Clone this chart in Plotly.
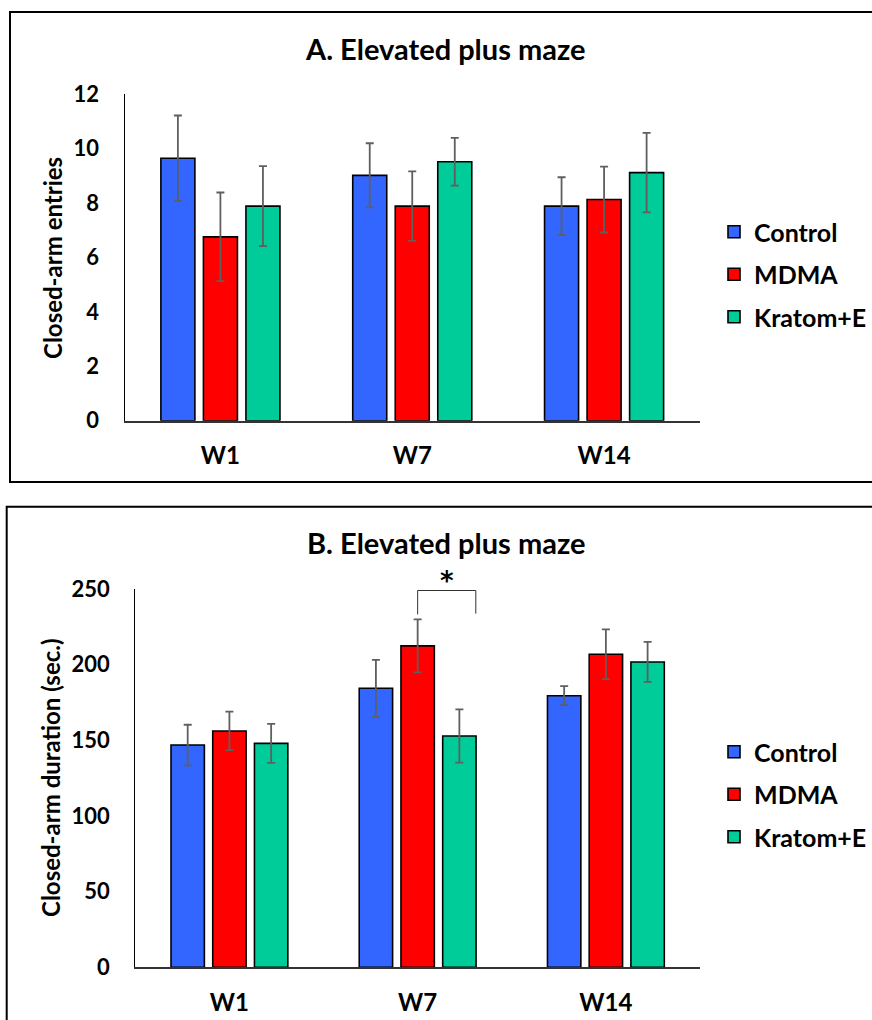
import plotly.graph_objects as go

# ---------------- data ----------------
categories = ["W1", "W7", "W14"]
groups = ["Control", "MDMA", "Kratom+E"]
colors = ["#3366FF", "#FF0000", "#00CC99"]

entries_control = [9.65, 9.02, 7.89]
entries_control_err = [1.57, 1.18, 1.06]
entries_mdma = [6.76, 7.89, 8.13]
entries_mdma_err = [1.63, 1.28, 1.21]
entries_kratom = [7.89, 9.52, 9.12]
entries_kratom_err = [1.47, 0.88, 1.46]

duration_control = [146.9, 184.4, 179.5]
duration_control_err = [13.4, 18.8, 6.3]
duration_mdma = [156.2, 212.4, 206.9]
duration_mdma_err = [12.7, 17.5, 16.4]
duration_kratom = [148.0, 152.9, 201.8]
duration_kratom_err = [12.9, 17.6, 13.2]

y_ticks_a = [0, 2, 4, 6, 8, 10, 12]
y_ticks_b = [0, 50, 100, 150, 200, 250]

W, H = 872, 1020
FONT = "Lato"


def px_x(p):
    return p / W


def px_y(p):
    return 1 - p / H


fig = go.Figure()

series_a = [
    (entries_control, entries_control_err),
    (entries_mdma, entries_mdma_err),
    (entries_kratom, entries_kratom_err),
]
series_b = [
    (duration_control, duration_control_err),
    (duration_mdma, duration_mdma_err),
    (duration_kratom, duration_kratom_err),
]

for i, (vals, errs) in enumerate(series_a):
    fig.add_trace(go.Bar(
        x=categories, y=vals, name=groups[i],
        marker=dict(color=colors[i], line=dict(color="black", width=1.6)),
        error_y=dict(type="data", array=errs, visible=True,
                     color="#5f5f5f", thickness=1.8, width=4),
        xaxis="x", yaxis="y", legend="legend", legendgroup="a" + str(i),
    ))

for i, (vals, errs) in enumerate(series_b):
    fig.add_trace(go.Bar(
        x=categories, y=vals, name=groups[i],
        marker=dict(color=colors[i], line=dict(color="black", width=1.6)),
        error_y=dict(type="data", array=errs, visible=True,
                     color="#5f5f5f", thickness=1.8, width=4),
        xaxis="x2", yaxis="y2", legend="legend2", legendgroup="b" + str(i),
    ))

tickfont_y = dict(family=FONT, size=22, color="black", weight="bold")
tickfont_x = dict(family=FONT, size=24, color="black", weight="bold")

xa_common = dict(
    type="category", range=[-0.5, 2.5], showline=True, linecolor="#333333",
    linewidth=1.6, ticks="", showgrid=False, zeroline=False,
    tickfont=tickfont_x, ticklabelstandoff=13, fixedrange=True,
)
ya_common = dict(
    showline=True, linecolor="black", linewidth=1.3, ticks="",
    showgrid=False, zeroline=False, tickfont=tickfont_y,
    ticklabelstandoff=20, fixedrange=True,
)

legend_common = dict(
    font=dict(family=FONT, size=25, color="black", weight="bold"),
    bgcolor="rgba(0,0,0,0)", traceorder="grouped", tracegroupgap=7,
    xanchor="left", yanchor="top", itemclick=False, itemdoubleclick=False,
)

fig.update_layout(
    width=W, height=H,
    margin=dict(l=0, r=0, t=0, b=0, autoexpand=False),
    paper_bgcolor="white", plot_bgcolor="white",
    barmode="group", bargap=0.335, bargroupgap=0.2,
    showlegend=True,
    xaxis=dict(domain=[px_x(124.5), px_x(700)], anchor="y", **xa_common),
    yaxis=dict(domain=[px_y(420.7), px_y(94.3)], anchor="x", range=[0, 12],
               tickvals=y_ticks_a, **ya_common),
    xaxis2=dict(domain=[px_x(135.3), px_x(700)], anchor="y2", **xa_common),
    yaxis2=dict(domain=[px_y(967.3), px_y(589)], anchor="x2", range=[0, 250],
                tickvals=y_ticks_b, **ya_common),
    legend=dict(x=px_x(714), y=px_y(209), **legend_common),
    legend2=dict(x=px_x(714), y=px_y(729), **legend_common),
)

# panel frames
fig.add_shape(type="rect", xref="paper", yref="paper",
              x0=px_x(10), x1=1.02, y0=px_y(482), y1=px_y(12),
              line=dict(color="black", width=2), fillcolor="rgba(0,0,0,0)")
fig.add_shape(type="rect", xref="paper", yref="paper",
              x0=px_x(6.7), x1=1.02, y0=-0.02, y1=px_y(506.7),
              line=dict(color="black", width=2), fillcolor="rgba(0,0,0,0)")

# titles
title_font = dict(family=FONT, size=29, color="black", weight="bold")
fig.add_annotation(text="A. Elevated plus maze", xref="paper", yref="paper",
                   x=px_x(445.5), y=px_y(48), xanchor="center", yanchor="middle",
                   showarrow=False, font=title_font)
fig.add_annotation(text="B. Elevated plus maze", xref="paper", yref="paper",
                   x=px_x(445.5), y=px_y(542), xanchor="center", yanchor="middle",
                   showarrow=False, font=title_font)

# y-axis titles
ytitle_font = dict(family=FONT, size=24, color="black", weight="bold")
fig.add_annotation(text="Closed-arm entries", xref="paper", yref="paper",
                   x=px_x(52), y=px_y(258), textangle=-90,
                   xanchor="center", yanchor="middle", showarrow=False,
                   font=ytitle_font)
fig.add_annotation(text="Closed-arm duration (sec.)", xref="paper", yref="paper",
                   x=px_x(50), y=px_y(778), textangle=-90,
                   xanchor="center", yanchor="middle", showarrow=False,
                   font=ytitle_font)

# significance bracket (W7: MDMA vs Kratom+E)
w7 = categories.index("W7")
x_left = w7            # centre of MDMA bar (middle of group)
x_right = w7 + 0.309   # right edge of Kratom+E bar
b_low_left = duration_mdma[w7] + duration_mdma_err[w7] + 3.3
b_low_right = b_low_left + 0.5
b_high = 249
fig.add_shape(type="path", xref="x2", yref="y2",
              path=f"M {x_left},{b_low_left} L {x_left},{b_high} "
                   f"L {x_right},{b_high} L {x_right},{b_low_right}",
              line=dict(color="#333333", width=1))
fig.add_annotation(text="*", xref="x2", yref="y2",
                   x=(x_left + x_right) / 2, y=b_high - 5,
                   xanchor="center", yanchor="bottom", showarrow=False,
                   font=dict(family="DejaVu Sans", size=26, color="black",
                             weight="bold"))

fig.write_html(
    "out.html",
    config={"displayModeBar": False},
    post_script="document.body.style.margin='0';document.body.style.overflow='hidden';",
)
